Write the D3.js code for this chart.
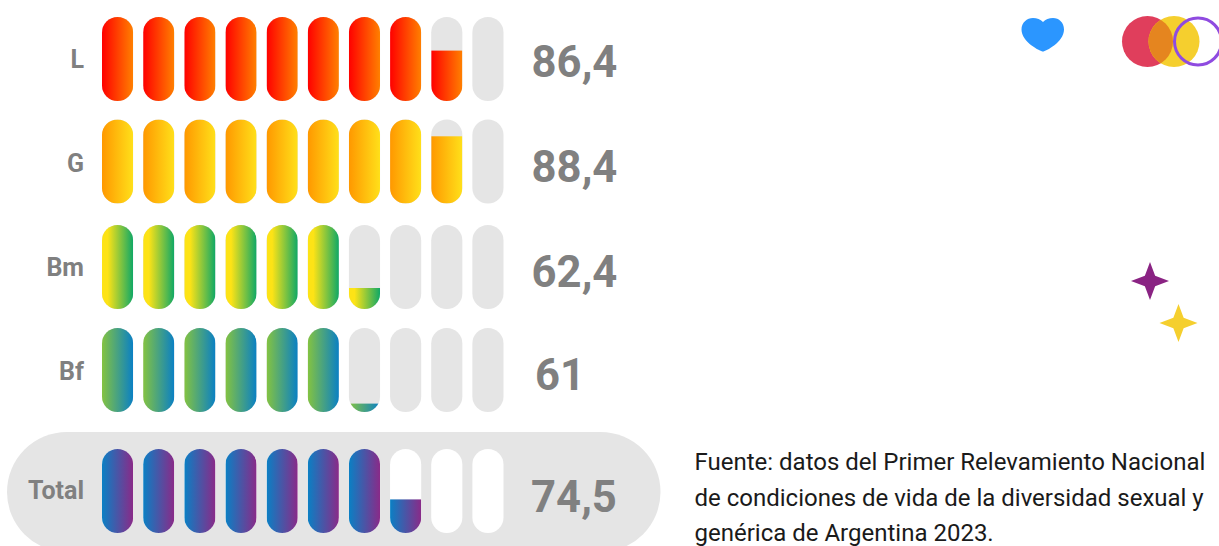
<!DOCTYPE html>
<html><head><meta charset="utf-8">
<script src="https://cdn.jsdelivr.net/npm/d3@7"></script>
<style>html,body{margin:0;padding:0;background:#fff;overflow:hidden}svg{display:block;font-family:Roboto,sans-serif}</style>
</head><body><svg id="c" width="1219" height="546"></svg>
<script>
const categories = ["L","G","Bm","Bf","Total"];
const labels = ["86,4","88,4","62,4","61","74,5"];
// Filled pills (whole pills + share of the last one)
const filledPills = [8.60, 8.80, 6.25, 6.10, 7.40];
const gradientStart = ["#ff0000","#ff9800","#fde316","#84c341","#0a80c4"];
const gradientEnd = ["#ff8000","#ffe01a","#0fa866","#0a80c4","#8a2a88"];
const gradientHold = [0,0,0.18,0,0];
const pillTops = [17,119.5,225,328,449];
const labelY = [67.5,171.5,275.5,379.5,498.5];
const valueY = [76.5,181.5,286.5,389.5,512];
const valueX = [574.5,574.5,574.5,560,574];
const footnote = ["Fuente: datos del Primer Relevamiento Nacional","de condiciones de vida de la diversidad sexual y","genérica de Argentina 2023."];
const pillIdx = d3.range(10);

const svg = d3.select("#c");
const defs = svg.append("defs");
const x = d3.scaleBand().domain(pillIdx).range([102,503.5]).paddingInner(0.2435).paddingOuter(0);
const pw = x.bandwidth(), ph = 84;
const fillH = d3.scaleLinear().domain([0,1]).range([0,ph]);

categories.forEach((c,i)=>{
  const g = defs.append("linearGradient").attr("id","g"+i);
  g.append("stop").attr("offset","0%").attr("stop-color",gradientStart[i]);
  g.append("stop").attr("offset",gradientHold[i]).attr("stop-color",gradientStart[i]);
  g.append("stop").attr("offset","100%").attr("stop-color",gradientEnd[i]);
  pillIdx.forEach(k=>{
    defs.append("clipPath").attr("id",`p${i}-${k}`).append("rect")
      .attr("x",x(k)).attr("y",pillTops[i]).attr("width",pw).attr("height",ph).attr("rx",pw/2);
  });
});

// total panel
svg.append("rect").attr("x",7).attr("y",432).attr("width",653.5).attr("height",120).attr("rx",60).attr("fill","#e5e5e5");

categories.forEach((c,i)=>{
  const row = svg.append("g");
  row.selectAll("rect.bg").data(pillIdx).join("rect").attr("class","bg")
    .attr("x",k=>x(k)).attr("y",pillTops[i]).attr("width",pw).attr("height",ph).attr("rx",pw/2)
    .attr("fill",c==="Total"?"#ffffff":"#e5e5e5");
  row.selectAll("rect.fg").data(pillIdx).join("rect").attr("class","fg")
    .attr("clip-path",k=>`url(#p${i}-${k})`)
    .attr("x",k=>x(k)).attr("width",pw)
    .attr("height",k=>fillH(Math.max(0,Math.min(1,filledPills[i]-k))))
    .attr("y",k=>pillTops[i]+ph-fillH(Math.max(0,Math.min(1,filledPills[i]-k))))
    .attr("fill",`url(#g${i})`);
  svg.append("text").attr("x",84).attr("y",labelY[i]).attr("text-anchor","end")
    .attr("font-size",25).attr("font-weight",700).attr("fill","#808080").text(c);
  svg.append("text").attr("x",valueX[i]).attr("y",valueY[i]).attr("text-anchor","middle")
    .attr("font-size",43.6).attr("font-weight",700).attr("fill","#808080").text(labels[i]);
});

footnote.forEach((t,i)=>{
  svg.append("text").attr("x",694.5).attr("y",470+i*35.5).attr("font-size",24).attr("fill","#1a1a1a").text(t);
});

// decorations
svg.append("path")
 .attr("d","M1043 51.5 C1040.5 51.5 1021.5 42 1021.5 29.5 C1021.5 22.5 1027 18 1033 18 C1037 18 1040.5 19.5 1043 22 C1045.5 19.5 1049 18 1053 18 C1059 18 1064 22.5 1064 29.5 C1064 42 1045.5 51.5 1043 51.5 Z")
 .attr("fill","#2b96ff");
svg.append("circle").attr("cx",1147.5).attr("cy",41.5).attr("r",25.5).attr("fill","#e03e5c");
svg.append("circle").attr("cx",1174).attr("cy",41.5).attr("r",25.5).attr("fill","#f5cf2e");
const lens = defs.append("clipPath").attr("id","lens");
lens.append("circle").attr("cx",1147.5).attr("cy",41.5).attr("r",25.5);
svg.append("circle").attr("cx",1174).attr("cy",41.5).attr("r",25.5).attr("fill","#e5851f").attr("clip-path","url(#lens)");
svg.append("circle").attr("cx",1198).attr("cy",41.5).attr("r",23.5).attr("fill","none").attr("stroke","#8f4be0").attr("stroke-width",3);

function star(cx,cy,r,col){
  const q=r*0.27;
  const pts=[[0,-r],[q,-q],[r,0],[q,q],[0,r],[-q,q],[-r,0],[-q,-q]].map(p=>[cx+p[0],cy+p[1]]);
  svg.append("path").attr("d","M"+pts.join("L")+"Z").attr("fill",col);
}
star(1150,281,19,"#8a2383");
star(1178.5,323,19,"#f5cf2e");
</script></body></html>
